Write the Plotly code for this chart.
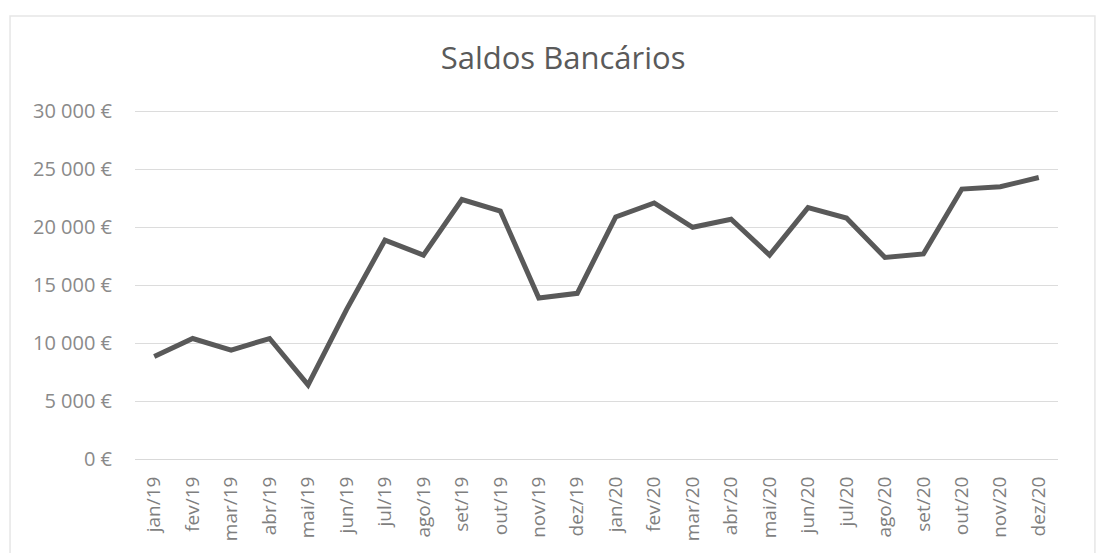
import plotly.graph_objects as go

meses = ["jan/19", "fev/19", "mar/19", "abr/19", "mai/19", "jun/19", "jul/19", "ago/19",
         "set/19", "out/19", "nov/19", "dez/19", "jan/20", "fev/20", "mar/20", "abr/20",
         "mai/20", "jun/20", "jul/20", "ago/20", "set/20", "out/20", "nov/20", "dez/20"]
saldos = [8850, 10400, 9400, 10400, 6400, 12900, 18900, 17600,
          22400, 21400, 13900, 14300, 20900, 22100, 20000, 20700,
          17600, 21700, 20800, 17400, 17700, 23300, 23500, 24300]
y_ticks = [0, 5000, 10000, 15000, 20000, 25000, 30000]
y_tick_labels = ["0 €", "5 000 €", "10 000 €", "15 000 €", "20 000 €", "25 000 €", "30 000 €"]

FONT = "'Open Sans', 'Liberation Sans', sans-serif"

fig = go.Figure()
fig.add_trace(go.Scatter(
    x=meses, y=saldos, mode="lines",
    line=dict(color="#595959", width=5),
    hoverinfo="x+y", showlegend=False,
))

fig.update_layout(
    width=1098, height=545,
    paper_bgcolor="white", plot_bgcolor="white",
    margin=dict(l=127, r=48, t=100, b=90),
    title=dict(text="Saldos Bancários", x=0.5055, xanchor="center", xref="container",
               y=1 - 50 / 545, yanchor="middle", yref="container",
               font=dict(family=FONT, size=31, color="#5a5a5a")),
    font=dict(family=FONT, color="#7f7f7f"),
    xaxis=dict(
        type="category", tickangle=-90, showgrid=False,
        tickfont=dict(size=19, color="#7f7f7f"),
        showline=True, linecolor="#d9d9d9", linewidth=1,
        ticks="", range=[-0.5, len(meses) - 0.5],
        ticklabelstandoff=9,
    ),
    yaxis=dict(
        range=[0, 30300], tickvals=y_ticks, ticktext=y_tick_labels,
        showgrid=True, gridcolor="#dcdcdc", gridwidth=1,
        zeroline=False, showline=False, ticks="",
        tickfont=dict(size=20, color="#8a8a8a"),
        ticklabelstandoff=22,
    ),
    shapes=[dict(type="rect", xref="paper", yref="paper",
                 x0=-0.1354, x1=1.040, y0=-0.30, y1=1.262,
                 line=dict(color="#e6e6e6", width=1.5))],
)

fig.write_html("out.html")
